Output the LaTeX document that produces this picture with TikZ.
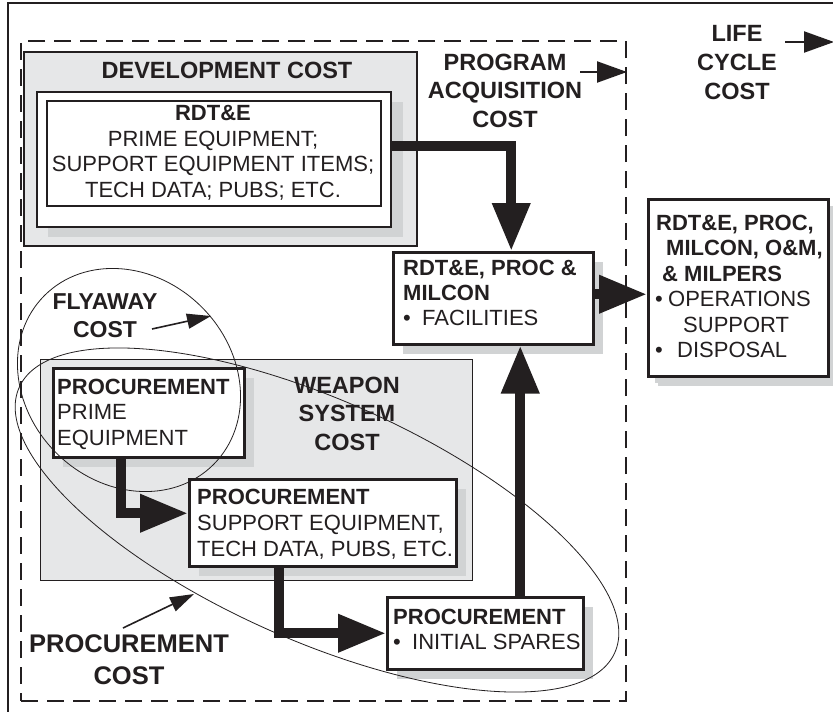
\documentclass[tikz,border=0pt]{standalone}
\usepackage{fontspec}
\setmainfont{Liberation Sans}
\usetikzlibrary{arrows.meta,shadows,shapes.geometric}
\definecolor{ink}{HTML}{231F20}
\definecolor{panel}{HTML}{E6E7E8}
\definecolor{shadowgray}{HTML}{D1D3D4}
\begin{document}
\begin{tikzpicture}[x=1pt,y=-1pt,
  frame/.style={draw=ink, line width=2pt},
  acqbox/.style={draw=ink, line width=2pt, dash pattern=on 17pt off 9pt, minimum width=605pt, minimum height=660pt, anchor=north west, inner sep=0pt},
  devpanel/.style={draw=ink, line width=2pt, fill=panel, anchor=north west, inner sep=0pt},
  wpanel/.style={draw=ink, line width=0.9pt, fill=panel, anchor=north west, inner sep=0pt},
  box/.style={draw=ink, line width=2.5pt, fill=white, anchor=north west, inner sep=0pt,
     general shadow={fill=shadowgray, shadow xshift=10pt, shadow yshift=-10pt}},
  plainbox/.style={draw=ink, line width=2.2pt, fill=white, anchor=north west, inner sep=0pt},
  lbl/.style={font=\fontsize{23.5}{28.5}\selectfont\bfseries, align=center, inner sep=0pt, text=ink, anchor=north},
  btxt/.style={font=\fontsize{22}{25.4}\selectfont, align=left, inner sep=0pt, anchor=north west, text=ink},
  bigarrow/.style={draw=ink, line width=10pt, line join=miter, -{Triangle[length=48pt,width=36pt]}},
  medarrow/.style={draw=ink, line width=2.2pt, -{Triangle[length=30pt,width=21pt]}},
  smallarrow/.style={draw=ink, line width=1.6pt, -{Triangle[length=24pt,width=15pt]}},
  ring/.style={draw=ink, line width=0.8pt, ellipse, inner sep=0pt},
]
\useasboundingbox (0,0) rectangle (833,712);
\fill[white] (0,0) rectangle (833,712);
% outer frame (life cycle)
\draw[frame] (840,3) -- (8,3) -- (8,720);
% program acquisition dashed frame
\node[acqbox] (acq) at (20,40) {};
% development cost panel
\node[devpanel, minimum width=393pt, minimum height=194pt] (dev) at (23,51) {};
\fill[shadowgray] (48,102) rectangle (403,237);
\node[plainbox, minimum width=354pt, minimum height=135pt] (rdte) at (36,91) {};
\node[plainbox, fill=none, minimum width=334pt, minimum height=105pt] (rdtein) at (46,100) {};
% weapon system panel
\node[wpanel, minimum width=432pt, minimum height=221pt] (wsc) at (40,359) {};
% boxes
\node[box, minimum width=200pt, minimum height=92pt] (mid) at (392,251) {};
\node[box, minimum width=180pt, minimum height=177pt, general shadow={fill=shadowgray, shadow xshift=7pt, shadow yshift=-7pt}] (right) at (647,198) {};
\node[box, minimum width=191pt, minimum height=89pt] (prime) at (52,367) {};
\node[box, minimum width=267pt, minimum height=87pt] (support) at (188,478) {};
\node[box, minimum width=196pt, minimum height=72pt] (spares) at (386,596) {};
% texts
\node[lbl, anchor=center] (devt) at (227,70) {DEVELOPMENT COST};
\node[btxt, align=center, anchor=north, font=\fontsize{22}{25.7}\selectfont] (rdtet) at (213,105) {\textbf{RDT\&E}\\PRIME EQUIPMENT;\\SUPPORT EQUIPMENT ITEMS;\\TECH DATA; PUBS; ETC.};
\node[lbl] (pact) at (505,53.5) {PROGRAM\\ACQUISITION\\COST};
\node[lbl, font=\fontsize{23.5}{29}\selectfont\bfseries] (lcct) at (737,25.5) {LIFE\\CYCLE\\COST};
\node[btxt, font=\fontsize{22}{25}\selectfont] (midt) at (403,260) {\textbf{RDT\&E, PROC \&}\\\textbf{MILCON}\\\makebox[19pt][l]{•}FACILITIES};
\node[btxt] (rightt) at (656,215) {\textbf{RDT\&E, PROC,}\\\hspace*{10pt}\textbf{MILCON, O\&M,}\\\hspace*{6pt}\textbf{\& MILPERS}\\\hspace*{-1pt}\makebox[13pt][l]{•}OPERATIONS\\\hspace*{27pt}SUPPORT\\\hspace*{-1pt}\makebox[22pt][l]{•}DISPOSAL};
\node[btxt, font=\fontsize{22}{25.3}\selectfont] (primet) at (57,379) {\textbf{PROCUREMENT}\\PRIME\\EQUIPMENT};
\node[btxt, font=\fontsize{22}{26}\selectfont] (supportt) at (197,489) {\textbf{PROCUREMENT}\\SUPPORT EQUIPMENT,\\TECH DATA, PUBS, ETC.};
\node[btxt, font=\fontsize{22}{25}\selectfont] (sparest) at (393,609) {\textbf{PROCUREMENT}\\\makebox[19pt][l]{•}INITIAL SPARES};
\node[lbl] (wsct) at (347,376.5) {WEAPON\\SYSTEM\\COST};
\node[lbl, font=\fontsize{23}{28}\selectfont\bfseries] (flyt) at (105,293.7) {FLYAWAY\\COST};
\node[lbl, font=\fontsize{25.5}{32}\selectfont\bfseries] (proct) at (129,634) {PROCUREMENT\\COST};
% thick arrows
\draw[bigarrow] ([yshift=13.5pt]rdte.east) -| ([xshift=18pt]mid.north);
\path ([yshift=4pt]mid.east) coordinate (m2);
\draw[bigarrow] (m2) -- (m2 -| right.west);
\path ([xshift=35pt]spares.north) coordinate (s3);
\draw[bigarrow] (s3) -- (s3 |- mid.south);
\draw[bigarrow] ([xshift=-27.5pt]prime.south) |- ([yshift=9.5pt]support.west);
\draw[bigarrow] ([xshift=-43.5pt]support.south) |- (spares.west);
% label arrows
\coordinate (pa1) at (580,72);
\draw[medarrow] (pa1) -- (pa1 -| acq.east);
\coordinate (lc1) at (785,42);
\coordinate (lc2) at (834,42);
\draw[medarrow] (lc1) -- (lc2);
\coordinate (fa1) at (152,329);
\coordinate (fa2) at (211,316);
\draw[smallarrow] (fa1) -- (fa2);
\coordinate (pc1) at (123,628);
\coordinate (pc2) at (194,594);
\draw[smallarrow] (pc1) -- (pc2);
% cost envelopes
\node[ring, minimum width=239pt, minimum height=206pt, rotate=-45] (fly) at (129,380) {};
\node[ring, minimum width=652pt, minimum height=240pt, rotate=-24] (proc) at (317,520) {};
\end{tikzpicture}
\end{document}
